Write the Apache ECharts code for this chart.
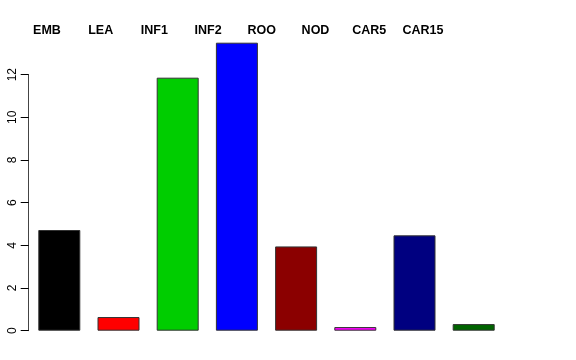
<!DOCTYPE html>
<html>
<head>
<meta charset="utf-8">
<script src="https://cdn.jsdelivr.net/npm/echarts@6/dist/echarts.min.js"></script>
<style>html,body{margin:0;padding:0;background:#fff;}#c{width:576px;height:360px;}</style>
</head>
<body>
<div id="c"></div>
<script>
var categories = ["EMB", "LEA", "INF1", "INF2", "ROO", "NOD", "CAR5", "CAR15"];
var values = [4.72, 0.64, 11.86, 13.5, 3.95, 0.17, 4.47, 0.31];
var colors = ["#000000", "#FF0000", "#00CD00", "#0000FF", "#8B0000", "#FF00FF", "#000080", "#006400"];
var yTicks = [0, 2, 4, 6, 8, 10, 12];

var chart = echarts.init(document.getElementById('c'), null, {renderer: 'canvas'});
var font = '"Liberation Sans", Arial, Helvetica, sans-serif';
chart.setOption({
  animation: false,
  backgroundColor: '#ffffff',
  grid: [
    {left: 29.7, right: 72.7, top: 74.7, bottom: 29.3, containLabel: false},
    {left: 20.15, width: 429.6, top: 37, height: 10, containLabel: false}
  ],
  xAxis: [
    {type: 'category', gridIndex: 0, data: categories, axisLine: {show: false}, axisTick: {show: false}, axisLabel: {show: false}, splitLine: {show: false}},
    {type: 'category', gridIndex: 1, position: 'top', data: categories, axisLine: {show: false}, axisTick: {show: false},
     axisLabel: {show: true, margin: 0, fontFamily: font, fontWeight: 'bold', fontSize: 12.5, color: '#000'}, splitLine: {show: false}}
  ],
  yAxis: [
    {type: 'value', gridIndex: 0, min: yTicks[0], max: yTicks[yTicks.length - 1], interval: 2, offset: 1,
     axisLine: {show: true, lineStyle: {color: '#444', width: 1}},
     axisTick: {show: true, length: 8, lineStyle: {color: '#000', width: 1}},
     axisLabel: {show: true, rotate: 90, margin: 10, fontFamily: font, fontSize: 12, color: '#000'},
     splitLine: {show: false}},
    {type: 'value', gridIndex: 1, show: false}
  ],
  series: [{
    type: 'bar',
    xAxisIndex: 0, yAxisIndex: 0,
    clip: false,
    barWidth: 42,
    data: values.map(function (v, i) {
      return {value: v, itemStyle: {color: colors[i]}};
    }),
    itemStyle: {borderColor: '#333', borderWidth: 1}
  }]
});
</script>
</body>
</html>
